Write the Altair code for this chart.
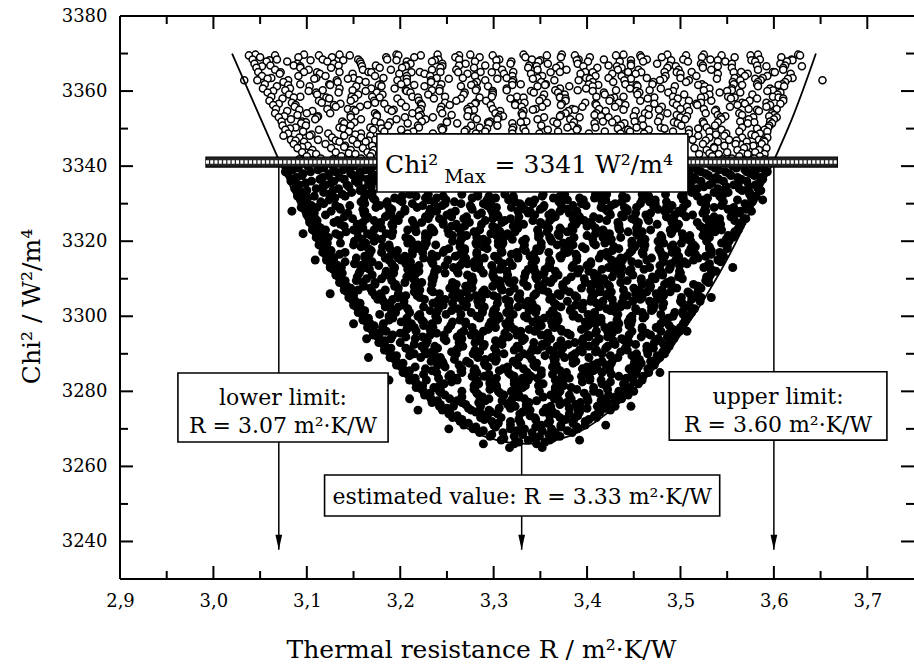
import altair as alt
import pandas as pd

# Monte Carlo runs: Chi² level (W²/m⁴) and the thermal resistances found at that level.
# R values are given in thousandths of m²K/W above 3.000.
open_rows = [
    (3369.7, [45, 97, 135, 196, 240, 275, 332, 373, 439, 486, 525, 583, 626]),
    (3369.5, [38, 66, 113, 146, 198, 222, 263, 299, 357, 387, 431, 457, 506, 544, 575, 628]),
    (3369.0, [50, 91, 127, 185, 215, 259, 285, 334, 372, 403, 458, 480, 523, 558, 608]),
    (3368.4, [42, 68, 117, 155, 186, 241, 263, 306, 341, 391, 418, 464, 503, 532, 585, 619]),
    (3368.2, [60, 104, 139, 196, 237, 303, 350, 389, 447, 490, 540, 576, 620]),
    (3367.9, [57, 79, 122, 157, 207, 234, 280, 319, 348, 401, 435, 460, 508, 548, 580, 614]),
    (3367.3, [44, 90, 129, 158, 211, 245, 270, 318, 358, 390, 447, 475, 522, 555, 607]),
    (3366.8, [61, 86, 134, 174, 206, 263, 291, 338, 371, 423, 447, 488, 524, 582, 612]),
    (3366.6, [52, 93, 159, 206, 245, 303, 346, 396, 432, 495, 540, 592, 630]),
    (3366.2, [46, 93, 126, 178, 202, 243, 279, 337, 367, 411, 437, 486, 524, 555, 610]),
    (3365.7, [66, 102, 160, 190, 234, 260, 309, 347, 378, 433, 455, 498, 533, 583, 610]),
    (3365.1, [48, 97, 135, 166, 221, 243, 286, 321, 371, 398, 444, 483, 512, 565, 599]),
    (3365.0, [72, 111, 169, 212, 262, 298, 361, 406, 458, 496, 557, 601]),
    (3364.6, [71, 114, 149, 199, 226, 272, 311, 340, 393, 427, 452, 500, 540, 572, 618]),
    (3364.0, [52, 91, 120, 173, 207, 232, 280, 320, 352, 409, 437, 484, 517, 569, 593]),
    (3363.5, [62, 110, 150, 182, 239, 267, 314, 347, 399, 423, 464, 500, 558, 588, 620]),
    (3363.3, [58, 108, 144, 207, 252, 304, 342, 403, 447, 482, 539, 580, 615]),
    (3362.9, [33, 47, 80, 132, 156, 197, 233, 291, 321, 365, 391, 440, 478, 509, 564, 586, 652]),
    (3362.4, [75, 133, 163, 207, 233, 282, 320, 351, 406, 428, 471, 506, 556, 583, 612]),
    (3361.8, [55, 93, 124, 179, 201, 244, 279, 329, 356, 402, 441, 470, 523, 557, 582, 609]),
    (3361.6, [80, 125, 177, 215, 276, 320, 355, 412, 453, 519, 566, 605]),
    (3361.3, [68, 103, 153, 180, 226, 265, 294, 347, 381, 406, 454, 494, 526, 583, 611]),
    (3360.7, [53, 82, 135, 169, 194, 242, 282, 314, 371, 399, 446, 479, 531, 555, 596]),
    (3360.2, [77, 117, 149, 206, 234, 281, 314, 366, 390, 431, 467, 525, 555, 599]),
    (3360.0, [64, 102, 163, 207, 242, 299, 340, 406, 453, 492, 550, 593]),
    (3359.6, [58, 110, 134, 175, 211, 269, 299, 343, 369, 418, 456, 487, 542, 564, 607]),
    (3359.1, [81, 111, 155, 181, 230, 268, 299, 354, 376, 419, 454, 504, 531, 577, 604]),
    (3358.5, [62, 93, 148, 170, 213, 248, 298, 325, 371, 410, 439, 492, 526, 551, 599]),
    (3358.3, [86, 121, 178, 219, 285, 332, 371, 429, 472, 522, 558, 605]),
    (3358.0, [74, 124, 151, 197, 236, 265, 318, 352, 377, 425, 465, 497, 554, 582, 610]),
    (3357.4, [60, 113, 147, 172, 220, 260, 292, 349, 377, 424, 457, 509, 533, 574, 610]),
    (3356.9, [84, 116, 173, 201, 248, 281, 333, 357, 398, 434, 492, 522, 566, 592]),
    (3356.6, [70, 136, 183, 222, 280, 323, 373, 409, 472, 517, 569, 607]),
    (3356.3, [64, 88, 129, 165, 223, 253, 297, 323, 372, 410, 441, 496, 518, 561, 596]),
    (3355.8, [87, 131, 157, 206, 244, 275, 330, 352, 395, 430, 480, 507, 553, 592]),
    (3355.2, [67, 122, 144, 187, 222, 272, 299, 345, 384, 413, 466, 500, 525, 573, 603]),
    (3355.0, [92, 150, 193, 243, 279, 342, 387, 439, 477, 538, 582]),
    (3354.7, [79, 106, 152, 191, 220, 273, 307, 332, 380, 420, 452, 509, 537, 584]),
    (3354.1, [66, 100, 125, 173, 213, 245, 302, 330, 377, 410, 462, 486, 527, 563, 598]),
    (3353.6, [90, 147, 175, 222, 255, 307, 331, 372, 408, 466, 496, 540, 566, 600]),
    (3353.3, [76, 112, 175, 220, 272, 310, 371, 415, 450, 507, 548, 595]),
    (3353.0, [70, 111, 147, 205, 235, 279, 305, 354, 392, 423, 478, 500, 543, 578, 603]),
    (3352.5, [83, 109, 158, 196, 227, 282, 304, 347, 382, 432, 459, 505, 544, 573, 600]),
    (3351.9, [73, 95, 138, 173, 223, 250, 296, 335, 364, 417, 451, 476, 524, 564, 596]),
    (3351.7, [99, 151, 189, 250, 294, 329, 386, 427, 493, 540, 579]),
    (3351.4, [94, 140, 179, 208, 261, 295, 320, 368, 408, 440, 497, 525, 572, 598]),
    (3350.8, [74, 99, 147, 187, 219, 276, 304, 351, 384, 436, 460, 501, 537, 595]),
    (3350.3, [88, 135, 168, 220, 244, 285, 321, 379, 409, 453, 479, 528, 566, 594]),
    (3350.0, [82, 139, 180, 246, 293, 332, 390, 433, 483, 519, 582]),
    (3349.7, [77, 113, 171, 201, 245, 271, 320, 358, 389, 444, 466, 509, 544, 590]),
    (3349.2, [96, 145, 183, 214, 269, 291, 334, 369, 419, 446, 492, 531, 563, 593]),
    (3348.7, [80, 123, 158, 208, 235, 281, 320, 349, 402, 436, 461, 509, 549, 585]),
    (3348.4, [105, 152, 538, 576]),
    (3348.1, [75, 103, 140, 168, 519, 547, 580]),
    (3347.6, [92, 127, 158, 531, 566, 593]),
    (3347.0, [83, 112, 149, 173, 513, 552, 584]),
    (3346.8, [88, 131, 166, 527, 560, 589]),
    (3346.5, [97, 135, 163, 540, 571, 590]),
    (3345.9, [86, 120, 154, 524, 559, 587]),
    (3345.4, [101, 141, 170, 547, 578]),
    (3345.1, [95, 140, 536, 571]),
    (3344.8, [90, 126, 160, 515, 536, 568, 592]),
    (3344.3, [106, 147, 172, 528, 561, 584]),
    (3343.7, [95, 131, 165, 550, 580]),
    (3343.4, [104, 145, 170, 531, 566]),
    (3343.2, [110, 152, 520, 541, 572, 590]),
    (3342.6, [100, 137, 168, 534, 563, 585]),
    (3342.0, [115, 158, 555, 579]),
    (3341.8, [92, 128, 545, 590]),
]

filled_rows = [
    (3340, [78, 101, 128, 150, 171, 512, 533, 556, 578]),
    (3339, [85, 112, 139, 163, 518, 541, 569, 590]),
    (3338, [80, 96, 124, 147, 170, 509, 527, 552, 575]),
    (3337, [89, 117, 135, 158, 515, 538, 561, 586]),
    (3336, [83, 105, 129, 152, 173, 522, 546, 571]),
    (3335, [92, 120, 143, 166, 510, 531, 557, 580]),
    (3334, [87, 110, 134, 160, 518, 540, 563, 583]),
    (3333, [95, 118, 148, 170, 512, 536, 551, 574]),
    (3332, [90, 108, 141, 162, 202, 217, 246, 283, 295, 321, 352, 371, 415, 438, 466, 501, 518, 542, 581]),
    (3331, [95, 124, 161, 173, 199, 230, 249, 293, 316, 344, 379, 396, 420, 459, 473, 503, 525, 561, 578]),
    (3330, [99, 118, 162, 185, 213, 248, 265, 289, 328, 342, 372, 394, 430, 457, 473, 507, 527, 569]),
    (3329, [94, 111, 135, 174, 188, 218, 240, 276, 303, 319, 353, 373, 415, 440, 453, 485, 503, 536, 557]),
    (3328, [104, 126, 162, 189, 205, 239, 259, 301, 326, 339, 371, 389, 422, 443, 483, 498, 527, 564, 576]),
    (3327, [100, 120, 162, 187, 200, 232, 250, 283, 304, 344, 359, 388, 425, 437, 463, 494, 513, 557]),
    (3326, [109, 149, 164, 193, 230, 242, 268, 299, 318, 362, 385, 413, 448, 465, 489, 528, 542, 570]),
    (3325, [103, 129, 160, 179, 223, 246, 274, 309, 326, 350, 389, 403, 433, 455, 491, 518, 534, 566]),
    (3324, [112, 140, 175, 192, 216, 255, 269, 299, 321, 357, 384, 400, 434, 454, 496, 521, 534, 564]),
    (3323, [106, 120, 150, 172, 208, 235, 251, 285, 305, 347, 372, 385, 417, 435, 468, 489, 529, 544, 562]),
    (3322, [115, 131, 165, 185, 227, 252, 265, 297, 315, 348, 369, 409, 424, 453, 490, 502, 528, 559]),
    (3321, [110, 123, 155, 173, 206, 227, 267, 282, 311, 348, 360, 386, 417, 436, 480, 503, 531, 556]),
    (3320, [118, 151, 172, 212, 227, 256, 293, 305, 331, 362, 381, 425, 448, 476, 511, 528, 552]),
    (3319, [113, 150, 162, 188, 219, 238, 282, 305, 333, 368, 385, 409, 448, 462, 492, 514, 550]),
    (3318, [122, 166, 189, 217, 252, 269, 293, 332, 346, 376, 398, 434, 461, 477, 511, 531, 550]),
    (3317, [117, 141, 180, 194, 224, 246, 282, 309, 325, 359, 379, 421, 446, 459, 491, 509, 542]),
    (3316, [126, 162, 189, 205, 239, 259, 301, 326, 339, 371, 389, 422, 443, 483, 498, 527, 546]),
    (3315, [121, 163, 188, 201, 233, 251, 284, 305, 345, 360, 389, 426, 438, 464, 495, 514, 540]),
    (3314, [130, 151, 191, 206, 235, 272, 284, 310, 341, 360, 404, 427, 455, 490, 507, 531]),
    (3313, [125, 137, 163, 194, 213, 257, 280, 308, 343, 360, 384, 423, 437, 467, 489, 525]),
    (3312, [134, 157, 185, 220, 237, 261, 300, 314, 344, 366, 402, 429, 445, 479, 499, 538]),
    (3311, [131, 170, 184, 214, 236, 272, 299, 315, 349, 369, 411, 436, 449, 481, 499, 532]),
    (3310, [137, 164, 180, 214, 234, 276, 301, 314, 346, 364, 397, 418, 458, 473, 502, 530]),
    (3309, [135, 160, 173, 205, 223, 256, 277, 317, 332, 361, 398, 410, 436, 467, 486, 530]),
    (3308, [143, 161, 194, 215, 255, 270, 299, 336, 348, 374, 405, 424, 468, 491, 519]),
    (3307, [140, 155, 184, 221, 233, 259, 290, 309, 353, 376, 404, 439, 456, 480, 519]),
    (3306, [148, 179, 198, 242, 265, 293, 328, 345, 369, 408, 422, 452, 474, 510]),
    (3305, [145, 180, 197, 221, 260, 274, 304, 326, 362, 389, 405, 439, 459, 501, 522]),
    (3304, [152, 182, 204, 240, 267, 283, 317, 337, 379, 404, 417, 449, 467, 500, 521]),
    (3303, [150, 184, 204, 246, 271, 284, 316, 334, 367, 388, 428, 443, 472, 509]),
    (3302, [158, 190, 208, 241, 262, 302, 317, 346, 383, 395, 421, 452, 471, 515]),
    (3301, [155, 195, 210, 239, 276, 288, 314, 345, 364, 408, 431, 459, 494, 512]),
    (3300, [162, 188, 219, 238, 282, 305, 333, 368, 385, 409, 448, 462, 492, 508]),
    (3299, [160, 188, 223, 240, 264, 303, 317, 347, 369, 405, 432, 448, 482, 505]),
    (3298, [168, 182, 212, 234, 270, 297, 313, 347, 367, 409, 434, 447, 479, 503]),
    (3297, [165, 181, 215, 235, 277, 302, 315, 347, 365, 398, 419, 459, 474, 500]),
    (3296, [172, 185, 217, 235, 268, 289, 329, 344, 373, 410, 422, 448, 479, 499]),
    (3295, [171, 192, 232, 247, 276, 313, 325, 351, 382, 401, 445, 468, 494]),
    (3294, [178, 190, 216, 247, 266, 310, 333, 361, 396, 413, 437, 476, 493]),
    (3293, [177, 200, 228, 263, 280, 304, 343, 357, 387, 409, 445, 472, 490]),
    (3292, [184, 223, 237, 267, 289, 325, 352, 368, 402, 422, 464, 488]),
    (3291, [183, 210, 226, 260, 280, 322, 347, 360, 392, 410, 443, 464, 485]),
    (3290, [190, 215, 228, 260, 278, 311, 332, 372, 387, 416, 453, 465, 483]),
    (3289, [189, 222, 243, 283, 298, 327, 364, 376, 402, 433, 452, 478]),
    (3288, [196, 233, 245, 271, 302, 321, 365, 388, 416, 451, 468]),
    (3287, [196, 240, 263, 291, 326, 343, 367, 406, 420, 450, 472]),
    (3286, [203, 227, 266, 280, 310, 332, 368, 395, 411, 445, 465]),
    (3285, [203, 239, 266, 282, 316, 336, 378, 403, 416, 448, 466]),
    (3284, [210, 252, 277, 290, 322, 340, 373, 394, 434, 449, 460]),
    (3283, [210, 228, 261, 282, 322, 337, 366, 403, 415, 441, 459]),
    (3282, [218, 247, 284, 296, 322, 353, 372, 416, 439, 455]),
    (3281, [217, 236, 280, 303, 331, 366, 383, 407, 446]),
    (3280, [225, 242, 266, 305, 319, 349, 371, 407, 434, 450]),
    (3279, [226, 248, 284, 311, 327, 361, 381, 423, 444]),
    (3278, [233, 253, 295, 320, 333, 365, 383, 416, 437]),
    (3277, [234, 266, 284, 317, 338, 378, 393, 422]),
    (3276, [242, 257, 286, 323, 335, 361, 392, 411, 430]),
    (3275, [245, 276, 295, 339, 362, 390, 425]),
    (3274, [252, 287, 304, 328, 367, 381, 411]),
    (3273, [256, 286, 308, 344, 371, 387, 410]),
    (3272, [264, 298, 318, 360, 385, 398]),
    (3271, [268, 300, 318, 351, 372, 398]),
    (3270, [278, 318, 333, 362, 390]),
    (3269, [285, 310, 341, 366, 384]),
    (3268, [296, 322, 349, 371]),
    (3267, [308, 337, 360]),
    (3266, [322, 346]),
    (3265, [317, 352]),
]

filled_rows_mid = [
    (3339.5, [91, 118, 146, 168, 514, 537, 560, 584]),
    (3338.5, [77, 104, 131, 157, 522, 548, 571, 593]),
    (3337.5, [95, 123, 150, 172, 507, 530, 554, 579]),
    (3336.5, [86, 114, 140, 165, 516, 541, 565, 588]),
    (3335.5, [99, 126, 155, 511, 534, 562, 584]),
    (3334.5, [90, 117, 145, 169, 525, 549, 573]),
    (3333.5, [100, 128, 157, 515, 543, 566, 586]),
    (3332.5, [93, 124, 138, 165, 210, 230, 266, 283, 312, 353, 376, 409, 421, 459, 484, 503, 546, 574]),
    (3331.5, [101, 130, 171, 194, 227, 239, 277, 302, 321, 364, 392, 408, 442, 464, 503, 529, 544, 576]),
    (3330.5, [96, 115, 158, 186, 202, 236, 258, 297, 323, 338, 370, 416, 437, 467, 485, 522, 546, 577]),
    (3329.5, [105, 131, 146, 178, 224, 245, 275, 293, 330, 354, 385, 399, 426, 471, 491, 527, 544, 573]),
    (3328.5, [99, 136, 160, 191, 205, 232, 277, 297, 333, 350, 379, 420, 443, 476, 488, 526, 551, 570]),
    (3327.5, [108, 144, 161, 190, 231, 254, 287, 299, 337, 362, 381, 424, 452, 468, 502, 524, 563]),
    (3326.5, [102, 140, 165, 184, 227, 255, 271, 305, 327, 366, 392, 407, 439, 485, 506, 536, 554]),
    (3325.5, [111, 133, 172, 198, 213, 245, 291, 312, 342, 360, 397, 421, 452, 466, 493, 538, 558]),
    (3324.5, [106, 136, 154, 191, 215, 246, 260, 287, 332, 352, 388, 405, 434, 475, 498, 531, 543]),
    (3323.5, [115, 160, 180, 216, 233, 262, 303, 326, 359, 371, 409, 434, 453, 496, 524, 540, 562]),
    (3322.5, [109, 142, 154, 192, 217, 236, 279, 307, 323, 357, 379, 418, 444, 459, 491, 537, 558]),
    (3321.5, [119, 135, 169, 191, 230, 256, 271, 303, 349, 370, 400, 418, 455, 479, 510, 524, 551]),
    (3320.5, [113, 159, 180, 210, 228, 265, 289, 320, 334, 361, 406, 426, 462, 479, 508, 549]),
    (3319.5, [122, 136, 163, 208, 228, 264, 281, 310, 351, 374, 407, 419, 457, 482, 501, 544]),
    (3318.5, [117, 158, 181, 214, 226, 264, 289, 308, 351, 379, 395, 429, 451, 490, 516, 531, 550]),
    (3317.5, [126, 169, 197, 213, 247, 269, 308, 334, 349, 381, 427, 448, 478, 496, 533]),
    (3316.5, [120, 135, 167, 213, 234, 264, 282, 319, 343, 374, 388, 415, 460, 480, 516, 533]),
    (3315.5, [129, 153, 184, 198, 225, 270, 290, 326, 343, 372, 413, 436, 469, 481, 519, 544]),
    (3314.5, [124, 141, 170, 211, 234, 267, 279, 317, 342, 361, 404, 432, 448, 482, 504, 543]),
    (3313.5, [133, 158, 177, 220, 248, 264, 298, 320, 359, 385, 400, 432, 478, 499, 529]),
    (3312.5, [128, 167, 193, 208, 240, 286, 307, 337, 355, 392, 416, 447, 461, 488, 533]),
    (3311.5, [138, 156, 193, 217, 248, 262, 289, 334, 354, 390, 407, 436, 477, 500, 533]),
    (3310.5, [134, 154, 190, 207, 236, 277, 300, 333, 345, 383, 408, 427, 470, 498, 528]),
    (3309.5, [141, 153, 191, 216, 235, 278, 306, 322, 356, 378, 417, 443, 458, 490, 527]),
    (3308.5, [139, 173, 195, 234, 260, 275, 307, 353, 374, 404, 422, 459, 483, 514]),
    (3307.5, [147, 168, 198, 216, 253, 277, 308, 322, 349, 394, 414, 450, 467, 496, 522]),
    (3306.5, [143, 170, 215, 235, 271, 288, 317, 358, 381, 414, 426, 464, 489, 508]),
    (3305.5, [150, 173, 206, 218, 256, 281, 300, 343, 371, 387, 421, 443, 482, 515]),
    (3304.5, [148, 176, 192, 226, 248, 287, 313, 328, 360, 406, 427, 457, 475, 512]),
    (3303.5, [157, 189, 235, 256, 286, 304, 341, 365, 396, 410, 437, 482, 502]),
    (3302.5, [153, 184, 198, 225, 270, 290, 326, 343, 372, 413, 436, 469, 481, 510]),
    (3301.5, [162, 191, 232, 255, 288, 300, 338, 363, 382, 425, 453, 469, 503]),
    (3300.5, [159, 178, 221, 249, 265, 299, 321, 360, 386, 401, 433, 479, 503]),
    (3299.5, [166, 192, 207, 239, 285, 306, 336, 354, 391, 415, 446, 460, 487]),
    (3298.5, [164, 201, 225, 256, 270, 297, 342, 362, 398, 415, 444, 485]),
    (3297.5, [172, 208, 225, 254, 295, 318, 351, 363, 401, 426, 445, 488]),
    (3296.5, [169, 207, 232, 251, 294, 322, 338, 372, 394, 433, 459, 492]),
    (3295.5, [178, 200, 239, 265, 280, 312, 358, 379, 409, 427, 464, 488]),
    (3294.5, [176, 206, 224, 261, 285, 316, 330, 357, 402, 422, 458, 486]),
    (3293.5, [184, 229, 249, 285, 302, 331, 372, 395, 428, 440, 478]),
    (3292.5, [182, 215, 227, 265, 290, 309, 352, 380, 396, 430, 452, 482]),
    (3291.5, [190, 206, 240, 262, 301, 327, 342, 374, 420, 441, 471]),
    (3290.5, [188, 234, 255, 285, 303, 340, 364, 395, 409, 436, 481]),
    (3289.5, [196, 210, 237, 282, 302, 338, 355, 384, 425, 448, 475]),
    (3288.5, [194, 235, 258, 291, 303, 341, 366, 385, 428, 456, 474]),
    (3287.5, [203, 246, 274, 290, 324, 346, 385, 411, 426, 458]),
    (3286.5, [201, 216, 248, 294, 315, 345, 363, 400, 424, 455]),
    (3285.5, [210, 234, 265, 279, 306, 351, 371, 407, 424, 453]),
    (3284.5, [208, 225, 254, 295, 318, 351, 363, 401, 426, 452]),
    (3283.5, [216, 241, 260, 303, 331, 347, 381, 403, 442]),
    (3282.5, [216, 255, 281, 296, 328, 374, 395, 425, 450]),
    (3281.5, [224, 242, 279, 303, 334, 348, 375, 420, 440]),
    (3280.5, [223, 243, 279, 296, 325, 366, 389, 422, 443]),
    (3279.5, [232, 244, 282, 307, 326, 369, 397, 413, 438]),
    (3278.5, [232, 266, 288, 327, 353, 368, 400, 430]),
    (3277.5, [240, 261, 291, 309, 346, 370, 401, 415, 430]),
    (3276.5, [243, 270, 315, 335, 371, 388, 417]),
    (3275.5, [250, 273, 306, 318, 356, 381, 400, 420]),
    (3274.5, [253, 281, 297, 331, 353, 392, 414]),
    (3273.5, [261, 293, 339, 360, 390, 408]),
    (3272.5, [266, 290, 327, 345, 377, 402]),
    (3271.5, [273, 305, 329, 358, 385]),
    (3270.5, [281, 302, 345, 372, 389]),
    (3269.5, [289, 325, 352, 379]),
    (3268.5, [298, 331, 359]),
    (3267.5, [311, 344, 363]),
    (3266.5, [327, 355]),
]

# runs lying just outside the fitted envelope: (R thousandths above 3, Chi²)
filled_stray = [
    (84, 3328), (96, 3322), (109, 3315), (125, 3306), (150, 3298), (164, 3294),
    (166, 3289), (188, 3283), (210, 3278), (219, 3275), (252, 3270), (289, 3266),
    (392, 3267), (420, 3271), (447, 3276), (478, 3285), (507, 3296), (533, 3305),
    (556, 3313), (568, 3326), (580, 3338), (588, 3331),
]

# fitted parabola Chi²(R)
curve_r = [3.020, 3.050, 3.080, 3.110, 3.140, 3.170, 3.200, 3.230, 3.260, 3.290, 3.335,
           3.380, 3.410, 3.440, 3.470, 3.500, 3.530, 3.560, 3.590, 3.620, 3.645]
curve_chi = [3370, 3353, 3336, 3320, 3306.5, 3295, 3285.5, 3278, 3272, 3268, 3266,
             3268, 3272, 3278, 3285.5, 3295, 3306.5, 3320, 3336, 3353, 3370]

chi2_max = 3341
chi2_min = 3266
r_lower, r_best, r_upper = 3.07, 3.33, 3.60
arrow_end = 3237.8

x_major = [2.9, 3.0, 3.1, 3.2, 3.3, 3.4, 3.5, 3.6, 3.7]
x_minor = [2.95, 3.05, 3.15, 3.25, 3.35, 3.45, 3.55, 3.65]
y_major = [3240, 3260, 3280, 3300, 3320, 3340, 3360, 3380]
y_minor = [3250, 3270, 3290, 3310, 3330, 3350, 3370]

# ---------------------------------------------------------------------------
FONT = "DejaVu Serif"
W, H = 794, 563
xs = alt.Scale(domain=[2.9, 3.75], nice=False, zero=False)
ys = alt.Scale(domain=[3230, 3380], nice=False, zero=False)

x_axis = alt.Axis(
    values=x_major, labelExpr="replace(format(datum.value, '.1f'), '.', ',')",
    ticks=False, domain=False, grid=False, labelFont=FONT, labelFontSize=18,
    labelColor="black", labelPadding=27, labelBaseline="alphabetic", labelFlush=False,
    labelOverlap=False, title="Thermal resistance R / m²·K/W", titleFont=FONT,
    titleFontSize=25, titleFontWeight="normal", titleColor="black", titleX=361,
    titleY=78, titleAlign="center", titleBaseline="alphabetic",
)
y_axis = alt.Axis(
    values=y_major, format="d", ticks=False, domain=False, grid=False, labelFont=FONT,
    labelFontSize=18, labelColor="black", labelPadding=13, labelFlush=False,
    labelOverlap=False, title="Chi² / W²/m⁴", titleFont=FONT, titleFontSize=25,
    titleFontWeight="normal", titleColor="black", titleX=-81, titleY=290,
    titleAngle=270, titleAlign="center", titleBaseline="alphabetic",
)


# every layer shares one scale and one axis definition per direction
def X(field):
    return alt.X(field, type="quantitative", scale=xs, axis=x_axis)


def Y(field):
    return alt.Y(field, type="quantitative", scale=ys, axis=y_axis)


def expand(rows):
    return [(3 + v / 1000, c) for c, vals in rows for v in vals]


open_df = pd.DataFrame(expand(open_rows), columns=["r", "chi"])
filled_df = pd.DataFrame(
    expand(filled_rows) + expand(filled_rows_mid) + [(3 + v / 1000, c) for v, c in filled_stray],
    columns=["r", "chi"],
)
curve_df = pd.DataFrame({"r": curve_r, "chi": curve_chi, "o": range(len(curve_r))})

filled_pts = alt.Chart(filled_df).mark_circle(color="black", size=80, opacity=1).encode(
    x=X("r"), y=Y("chi")
)

open_pts = alt.Chart(open_df).mark_circle(
    fill="white", stroke="black", strokeWidth=1.5, size=50, opacity=1
).encode(x=X("r"), y=Y("chi"))

curve = alt.Chart(curve_df).mark_line(color="black", strokeWidth=1.8, interpolate="natural").encode(
    x=X("r"), y=Y("chi"), order="o:Q"
)

guides = alt.Chart(pd.DataFrame({
    "r": [r_lower, r_best, r_upper],
    "top": [chi2_max, chi2_min, chi2_max],
    "end": [arrow_end] * 3,
})).mark_rule(color="black", strokeWidth=1.5).encode(x=X("r"), y=Y("top"), y2=alt.Y2("end"))

heads = alt.Chart(pd.DataFrame({"r": [r_lower, r_best, r_upper], "end": [arrow_end] * 3})).mark_point(
    shape="M -0.45 -1 L 0.45 -1 L 0 1 Z", filled=True, color="black", size=225, opacity=1, yOffset=-7.5
).encode(x=X("r"), y=Y("end"))

bar_df = pd.DataFrame({"x0": [2.992], "x1": [3.668], "y0": [chi2_max - 1.25], "y1": [chi2_max + 1.4],
                       "y": [chi2_max + 0.1]})
bar = alt.Chart(bar_df).mark_rect(fill="#222222", stroke="black", strokeWidth=1.2).encode(
    x=X("x0"), x2=alt.X2("x1"), y=Y("y0"), y2=alt.Y2("y1")
)
bar_pattern = alt.Chart(bar_df).mark_rule(color="white", strokeWidth=3.4, strokeDash=[3, 1.3]).encode(
    x=X("x0"), x2=alt.X2("x1"), y=Y("y")
)

boxes = alt.Chart(pd.DataFrame({
    "x0": [3.175, 2.962, 3.488, 3.119],
    "x1": [3.508, 3.187, 3.721, 3.542],
    "y0": [3348.6, 3284.9, 3285.2, 3257.7],
    "y1": [3333.1, 3266.5, 3267.0, 3246.8],
})).mark_rect(fill="white", stroke="black", strokeWidth=1.6).encode(
    x=X("x0"), x2=alt.X2("x1"), y=Y("y0"), y2=alt.Y2("y1")
)


def text_layer(rows, size, align="center"):
    return alt.Chart(pd.DataFrame(rows, columns=["x", "y", "t"])).mark_text(
        font=FONT, fontSize=size, align=align, baseline="alphabetic", color="black"
    ).encode(x=X("x"), y=Y("y"), text="t:N")


box_text = text_layer([
    (3.0745, 3276.4, "lower limit:"),
    (3.0745, 3269.0, f"R = {r_lower:.2f} m²·K/W"),
    (3.6045, 3276.6, "upper limit:"),
    (3.6045, 3269.2, f"R = {r_upper:.2f} m²·K/W"),
    (3.3305, 3249.9, f"estimated value: R = {r_best:.2f} m²·K/W"),
], 22)
chi_text = text_layer([
    (3.1837, 3338.3, "Chi²"),
    (3.3010, 3338.3, f"= {chi2_max} W²/m⁴"),
], 25, "left")
chi_sub = text_layer([(3.2470, 3335.4, "Max")], 19, "left")


def ticks(values, side, length):
    df = pd.DataFrame({"t": values})
    if side == "bottom":
        enc = dict(x=X("t"), y=alt.value(H), y2=alt.value(H - length))
    elif side == "top":
        enc = dict(x=X("t"), y=alt.value(0), y2=alt.value(length))
    elif side == "left":
        enc = dict(y=Y("t"), x=alt.value(0), x2=alt.value(length))
    else:
        enc = dict(y=Y("t"), x=alt.value(W), x2=alt.value(W - length))
    return alt.Chart(df).mark_rule(color="black", strokeWidth=2).encode(**enc)


tick_layers = [
    ticks(x_major, "bottom", 13), ticks(x_minor, "bottom", 8),
    ticks(x_major, "top", 13), ticks(x_minor, "top", 8),
    ticks(y_major, "left", 13), ticks(y_minor, "left", 8),
    ticks(y_major, "right", 13), ticks(y_minor, "right", 8),
]

# frame on the left, top and bottom; the right edge of the plot lies at the page edge
frame_style = dict(color="black", strokeWidth=2)
frame = [
    alt.Chart(pd.DataFrame({"t": [0]})).mark_rule(**frame_style).encode(
        x=alt.value(0), y=alt.value(0), y2=alt.value(H)),
    alt.Chart(pd.DataFrame({"t": [0]})).mark_rule(**frame_style).encode(
        x=alt.value(0), x2=alt.value(W), y=alt.value(0)),
    alt.Chart(pd.DataFrame({"t": [0]})).mark_rule(**frame_style).encode(
        x=alt.value(0), x2=alt.value(W), y=alt.value(H)),
]

chart = alt.layer(
    filled_pts, open_pts, curve, guides, bar, bar_pattern, boxes,
    box_text, chi_text, chi_sub, heads, *tick_layers, *frame,
).properties(
    width=W, height=H,
    autosize=alt.AutoSizeParams(type="none"),
    padding={"left": 120, "top": 16, "right": 0, "bottom": 89},
    background="white",
).configure_view(strokeWidth=0)

chart.save("out.html", embed_options={"renderer": "svg", "actions": False})
